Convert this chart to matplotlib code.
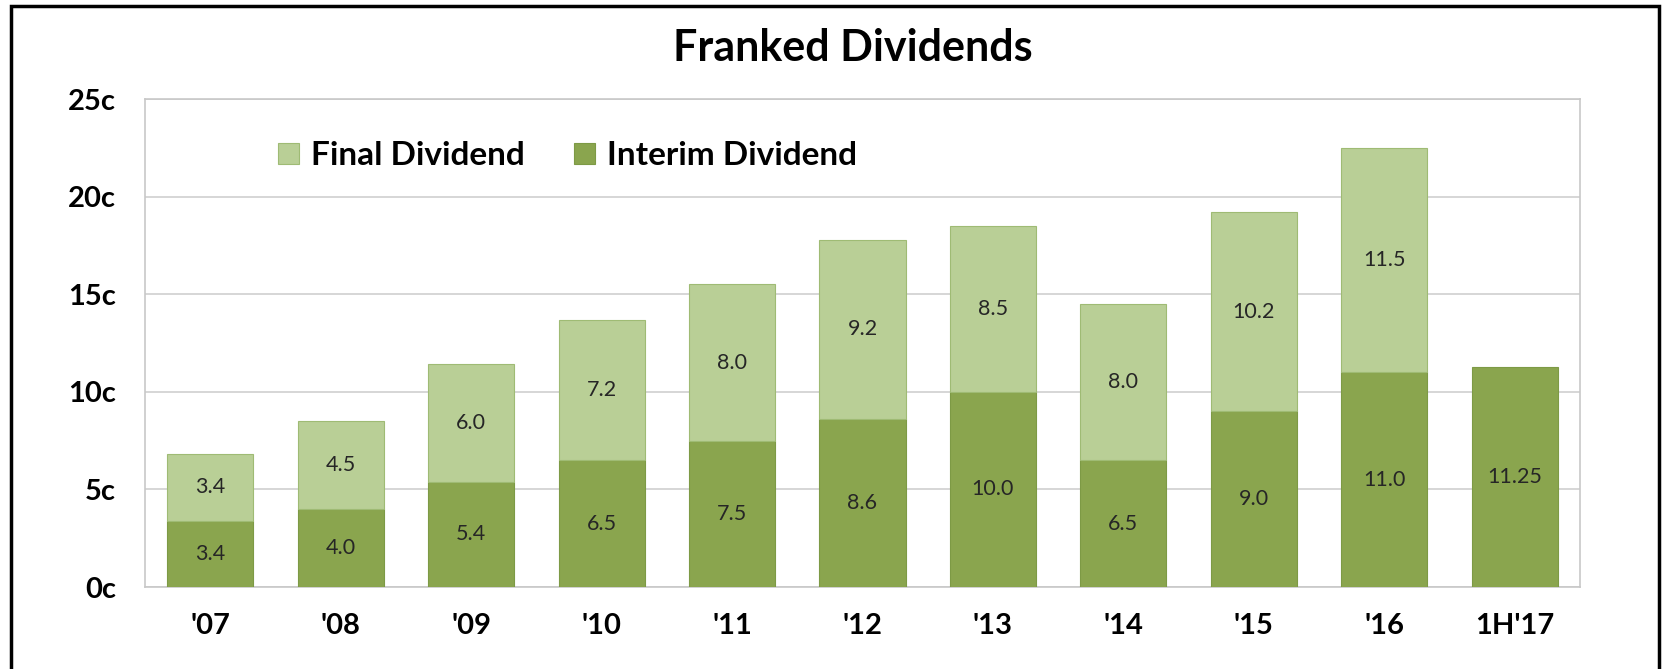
import matplotlib
matplotlib.use("Agg")
import matplotlib.pyplot as plt
from matplotlib.patches import Rectangle
import numpy as np

plt.rcParams['font.family'] = ['Lato', 'DejaVu Sans']

years = ["'07", "'08", "'09", "'10", "'11", "'12", "'13", "'14", "'15", "'16", "1H'17"]
interim = [3.4, 4.0, 5.4, 6.5, 7.5, 8.6, 10.0, 6.5, 9.0, 11.0, 11.25]
final = [3.4, 4.5, 6.0, 7.2, 8.0, 9.2, 8.5, 8.0, 10.2, 11.5, 0.0]
yticks = [0, 5, 10, 15, 20, 25]

C_INT, C_INT_E = "#8aa54e", "#7d9a45"
C_FIN, C_FIN_E = "#b9cf96", "#9fbb74"

def fmt(v):
    if v == 0:
        return ""
    return f"{v:.1f}" if round(v, 1) == v else f"{v:.2f}"

fig = plt.figure(figsize=(16.73, 6.69), dpi=100)
ax = fig.add_axes([145 / 1673, 82 / 669, 1435 / 1673, 488 / 669])

x = np.arange(len(years))
w = 0.66
b1 = ax.bar(x, interim, w, color=C_INT, edgecolor=C_INT_E, linewidth=0.8,
            label="Interim Dividend", zorder=3)
b2 = ax.bar(x, final, w, bottom=interim, color=C_FIN, edgecolor=C_FIN_E, linewidth=0.8,
            label="Final Dividend", zorder=3)
# the empty final segment of 1H'17 should not show an outline
b2.patches[-1].set_visible(False)

ax.bar_label(b1, labels=[fmt(v) for v in interim], label_type="center",
             fontsize=15.5, color="#262626")
ax.bar_label(b2, labels=[fmt(v) for v in final], label_type="center",
             fontsize=15.5, color="#262626")

ax.set_xlim(-0.5, len(years) - 0.5)
ax.set_ylim(0, 25)
ax.set_yticks(yticks)
ax.set_yticklabels([f"{t}c" for t in yticks], fontsize=21, fontweight="bold")
ax.set_xticks(x)
ax.set_xticklabels(years, fontsize=21, fontweight="bold")
ax.tick_params(length=0)
ax.tick_params(axis="y", pad=21)
ax.tick_params(axis="x", pad=19)
ax.grid(axis="y", color="#d0d0d0", linewidth=1.2, zorder=0)
for s in ax.spines.values():
    s.set_color("#c8c8c8")
    s.set_linewidth(1.2)

ax.legend(handles=[b2, b1], loc="upper left", bbox_to_anchor=(0.072, 0.975), ncol=2,
          frameon=False, prop={"weight": "bold", "size": 24},
          handlelength=0.62, handleheight=0.62, handletextpad=0.35, columnspacing=1.5)

fig.text(853 / 1673, 1 - 48 / 669, "Franked Dividends", ha="center", va="center",
         fontsize=31, fontweight="bold")

# outer frame of the slide graphic
fig.patches.append(Rectangle((11 / 1673, -0.05), 1659 / 1673 - 11 / 1673, 1.05 - 6 / 669,
                             transform=fig.transFigure, fill=False, edgecolor="black",
                             linewidth=2.5))

fig.savefig("out.png", dpi=100)
